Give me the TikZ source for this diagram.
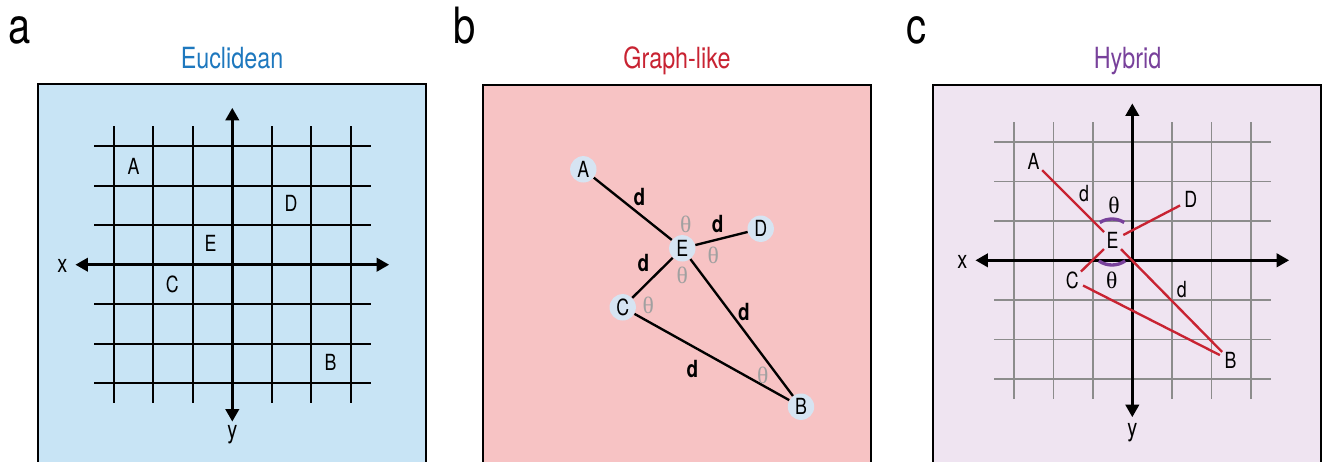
\documentclass[tikz,border=0pt]{standalone}
\usepackage{fontspec}
\setmainfont{TeX Gyre Heros}[FakeStretch=0.8]
\newfontfamily\thetafont{Liberation Serif}
\usetikzlibrary{arrows.meta}
\definecolor{eucfill}{RGB}{200,228,245}
\definecolor{eucblue}{RGB}{30,120,190}
\definecolor{graphfill}{RGB}{247,195,196}
\definecolor{graphred}{RGB}{200,35,50}
\definecolor{hybfill}{RGB}{239,228,241}
\definecolor{hybpurple}{RGB}{120,65,155}
\definecolor{vertfill}{RGB}{214,228,242}

\begin{document}
\begin{tikzpicture}[x=0.0253cm, y=0.0253cm]
	\tikzset{panel/.style = {draw=black, line width=1.6pt},
		panelletter/.style = {font=\fontsize{36}{38}\selectfont, anchor=base},
		paneltitle/.style = {font=\fontsize{21}{24}\selectfont, anchor=base},
		lbl/.style = {font=\fontsize{16}{18}\selectfont},
		axlbl/.style = {font=\fontsize{18}{20}\selectfont, anchor=base},
		gridline/.style = {line width=1.3pt},
		greygrid/.style = {line width=1.1pt, draw={rgb,255:red,140;green,140;blue,140}},
		axis/.style = {line width=2.4pt, {Triangle[length=9pt,width=9.5pt]}-{Triangle[length=9pt,width=9.5pt]}},
		vertex/.style = {shape=circle, fill=vertfill, inner sep=0pt, minimum size=19pt, lbl},
		edge/.style = {line width=1.7pt},
		dist/.style = {font=\fontsize{17}{19}\selectfont\bfseries},
		ang/.style = {font=\fontsize{17}{19}\selectfont\thetafont, text={rgb,255:red,160;green,160;blue,160}},
		place/.style = {shape=circle, inner sep=0pt, minimum size=17pt, lbl},
		redline/.style = {line width=1.7pt, draw=graphred},
		thetaarc/.style = {line width=2.4pt, draw=hybpurple}}
	\useasboundingbox (0,0) rectangle (1322,-461);
	
	% a: euclidean
	\fill[eucfill] (38,-84) rectangle (426,-475);
	\draw[panel] (38,-475) -- (38,-84) -- (426,-84) -- (426,-475);
	\node[panelletter] (lta) at (20,-43) {a};
	\node[paneltitle, text=eucblue] (tta) at (232,-68) {Euclidean};
	\begin{scope}[shift={(232.3,-264.7)}, scale=39.5]
		\foreach \i in {-3,-2,-1,1,2,3}{
			\draw[gridline] (\i,-3.5) -- (\i,3.5);
			\draw[gridline] (-3.5,\i) -- (3.5,\i);
		}
		\coordinate (ax-r) at (3.975,0);
		\coordinate (ax-t) at (0,3.975);
		\node[axlbl] (ax-x) at (-4.3,-0.2) {x};
		\node[axlbl] (ax-y) at (0,-4.41) {y};
		\coordinate (ax-l) at (-3.975,0);
		\coordinate (ax-b) at (0,-3.975);
		\draw[axis] (ax-l) -- (ax-r);
		\draw[axis] (ax-b) -- (ax-t);
		\foreach \n/\x/\y in {A/-2.5/2.5, D/1.49/1.55, E/-0.55/0.54, C/-1.52/-0.51, B/2.49/-2.48}{
			\node[lbl] (a\n) at (\x,\y) {\n};
		}
	\end{scope}
	
	% b: graph-like
	\fill[graphfill] (482.7,-85) rectangle (871.3,-475);
	\draw[panel] (482.7,-475) -- (482.7,-85) -- (871.3,-85) -- (871.3,-475);
	\node[panelletter] (ltb) at (465,-43) {b};
	\node[paneltitle, text=graphred] (ttb) at (677,-68) {Graph-like};
	\foreach \n/\x/\y in {A/583.3/169.3, E/682.3/248.3, D/760.7/228.7, C/622.7/307.3, B/801/406.7}{
		\node[vertex] (b\n) at (\x,-\y) {\n};
	}
	\draw[edge] (bA) -- (bE);
	\draw[edge] (bE) -- (bD);
	\draw[edge] (bE) -- (bC);
	\draw[edge] (bE) -- (bB);
	\draw[edge] (bC) -- (bB);
	\foreach \i/\x/\y in {1/639.3/196.7, 2/717.7/224, 3/643.3/263.3, 4/744/311.7, 5/692.3/369.3}{
		\node[dist] (bd\i) at (\x,-\y) {d};
	}
	\foreach \i/\x/\y in {1/685.7/224, 2/713.3/255.7, 3/682.3/275.7, 4/648.3/305, 5/762.7/375}{
		\node[ang] (bt\i) at (\x,-\y) {θ};
	}
	
	% c: hybrid
	\fill[hybfill] (932.7,-85) rectangle (1321,-475);
	\draw[panel] (932.7,-475) -- (932.7,-85) -- (1321,-85) -- (1321,-475);
	\node[panelletter] (ltc) at (916,-43) {c};
	\node[paneltitle, text=hybpurple] (ttc) at (1127.5,-68) {Hybrid};
	\begin{scope}[shift={(1132.3,-260.3)}, scale=39.5]
		\foreach \i in {-3,-2,-1,1,2,3}{
			\draw[greygrid] (\i,-3.5) -- (\i,3.5);
			\draw[greygrid] (-3.5,\i) -- (3.5,\i);
		}
		\coordinate (cx-r) at (3.975,0);
		\coordinate (cx-t) at (0,3.975);
		\node[axlbl] (cx-x) at (-4.3,-0.2) {x};
		\node[axlbl] (cx-y) at (0,-4.47) {y};
		\coordinate (cx-l) at (-3.975,0);
		\coordinate (cx-b) at (0,-3.975);
		\draw[axis] (cx-l) -- (cx-r);
		\draw[axis] (cx-b) -- (cx-t);
		\foreach \n/\x/\y in {A/-2.5/2.5, D/1.48/1.53, E/-0.5/0.5, C/-1.52/-0.5, B/2.49/-2.54}{
			\node[place] (c\n) at (\x,\y) {\n};
		}
		\draw[redline] (cA) -- (cE);
		\draw[redline] (cE) -- (cD);
		\draw[redline] (cE) -- (cC);
		\draw[redline] (cE) -- (cB);
		\draw[redline] (cC) -- (cB);
		\node[lbl] (cd1) at (-1.22,1.70) {d};
		\node[lbl] (cd2) at (1.25,-0.73) {d};
		\node[ang, text=black] (ct1) at (-0.46,1.39) {θ};
		\node[ang, text=black] (ct2) at (-0.52,-0.50) {θ};
	\end{scope}
	\draw[thetaarc] (1112,-242) ++(58:23) arc[start angle=58, end angle=122, radius=23];
	\draw[thetaarc] (1112,-242) ++(-125:23) arc[start angle=-125, end angle=-55, radius=23];
\end{tikzpicture}
\end{document}
